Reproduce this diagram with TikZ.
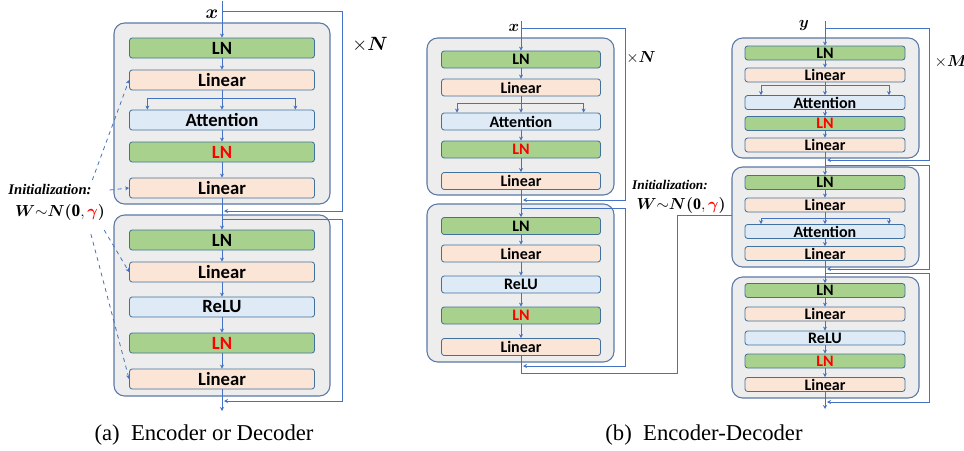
\documentclass[tikz,border=0pt]{standalone}
\usepackage{amssymb,amsmath}
\usepackage{bm}
\usepackage{fontspec}
\setmainfont{Liberation Serif}
\newfontfamily\blkfont{Carlito}
\usetikzlibrary{arrows.meta}

\definecolor{lngreen}{HTML}{A9D18E}
\definecolor{linpeach}{HTML}{FBE5D6}
\definecolor{attblue}{HTML}{DEEBF7}
\definecolor{edgeblue}{HTML}{41719C}
\definecolor{flowblue}{HTML}{4472C4}
\definecolor{layergray}{HTML}{EDEDED}
\definecolor{layeredge}{HTML}{5A78A6}

\newcommand{\winit}{$\bm{W}{\sim}\bm{N}\bm{(}\mathbf{0},{\color{red}\bm{\gamma}}\bm{)}$}

\begin{document}
\begin{tikzpicture}[x=0.75pt,y=-0.75pt,
  blk/.style={draw=edgeblue, line width=0.6pt, rounded corners=2pt, inner sep=0pt},
  wideA/.style={minimum width=138.75pt, minimum height=15pt, font=\blkfont\bfseries\fontsize{14}{14}\selectfont},
  wideB/.style={minimum width=119.25pt, minimum height=12.75pt, font=\blkfont\bfseries\fontsize{12}{12}\selectfont},
  wideC/.style={minimum width=120pt, minimum height=10.5pt, font=\blkfont\bfseries\fontsize{12}{12}\selectfont},
  ln/.style={blk, fill=lngreen},
  lin/.style={blk, fill=linpeach},
  att/.style={blk, fill=attblue},
  layer/.style={draw=layeredge, fill=layergray, line width=0.8pt, rounded corners=8pt},
  wire/.style={draw=flowblue, line width=0.6pt},
  flow/.style={wire, -{Stealth[length=3pt,width=3pt]}},
  init/.style={flow, dashed},
  lbl/.style={font=\fontsize{14}{14}\selectfont},
  lblsm/.style={font=\fontsize{12}{12}\selectfont}]

\useasboundingbox (0,0) rectangle (964,450);

% (a) one layer stack
\draw[layer] (114,23) rectangle (330,204);
\draw[layer] (114,215) rectangle (330,396);

\node(aLN1)[ln,wideA] at (222,48) {LN};
\node(aLin1)[lin,wideA] at (222,80) {Linear};
\node(aAtt)[att,wideA] at (222,120) {Attention};
\node(aLN2)[ln,wideA] at (222,152) {\color{red}LN};
\node(aLin2)[lin,wideA] at (222,188) {Linear};
\node(aLN3)[ln,wideA] at (222,240) {LN};
\node(aLin3)[lin,wideA] at (222,272) {Linear};
\node(aReLU)[att,wideA] at (222,307) {ReLU};
\node(aLN4)[ln,wideA] at (222,343) {\color{red}LN};
\node(aLin4)[lin,wideA] at (222,379) {Linear};

\node(ax)[lbl] at (212,14) {$\bm{x}$};
\node(aN)[lbl] at (370,45) {$\times\bm{N}$};

\coordinate(ain) at (222,1);
\coordinate(ares1) at (222,11);
\coordinate(aadd1) at (222,211);
\coordinate(ares2) at (222,219);
\coordinate(aadd2) at (222,401);
\coordinate(aout) at (222,411);
\coordinate(aright) at (342,0);
\coordinate(abr) at (222,98);

\draw[flow] (ain) -- (aLN1);
\draw[flow] (aLN1) -- (aLin1);
\draw[flow] (aLin1) -- (aAtt);
\draw[flow] (abr) -| ([xshift=-56pt]aAtt.north);
\draw[flow] (abr) -| ([xshift=55pt]aAtt.north);
\draw[flow] (aAtt) -- (aLN2);
\draw[flow] (aLN2) -- (aLin2);
\draw[flow] (aLin2) -- (aLN3);
\draw[flow] (aLN3) -- (aLin3);
\draw[flow] (aLin3) -- (aReLU);
\draw[flow] (aReLU) -- (aLN4);
\draw[flow] (aLN4) -- (aLin4);
\draw[flow] (aLin4) -- (aout);
\draw[flow,shorten >=1.5pt] (ares1) -- (ares1 -| aright) -- (aadd1 -| aright) -- (aadd1);
\draw[flow,shorten >=1.5pt] (ares2) -- (ares2 -| aright) -- (aadd2 -| aright) -- (aadd2);

\node(ainit)[font=\bfseries\itshape\fontsize{11}{11}\selectfont] at (50,190) {Initialization:};
\node(aW)[font=\fontsize{13}{13}\selectfont] at (60,212) {\winit};

\draw[init] ([xshift=-3pt]ainit.north east) -- (aLin1.west);
\draw[init] ([xshift=10pt]ainit.east) -- (aLin2.west);
\draw[init] ([shift={(-4pt,-4pt)}]aW.south east) -- (aLin3.west);
\draw[init] ([shift={(-14pt,-7pt)}]aW.south east) -- (aLin4.west);

\node(acap)[font=\fontsize{17}{17}\selectfont] at (204,435) {(a)\ \ Encoder or Decoder};

% (b) encoder side
\draw[layer] (427,38) rectangle (614,195);
\draw[layer] (427,204) rectangle (614,362);

\node(bLN1)[ln,wideB] at (521,59.5) {LN};
\node(bLin1)[lin,wideB] at (521,87.5) {Linear};
\node(bAtt)[att,wideB] at (521,121.5) {Attention};
\node(bLN2)[ln,wideB] at (521,149.5) {\color{red}LN};
\node(bLin2)[lin,wideB] at (521,181) {Linear};
\node(bLN3)[ln,wideB] at (521,226) {LN};
\node(bLin3)[lin,wideB] at (521,253.5) {Linear};
\node(bReLU)[att,wideB] at (521,284.5) {ReLU};
\node(bLN4)[ln,wideB] at (521,315.5) {\color{red}LN};
\node(bLin4)[lin,wideB] at (521,347) {Linear};

\node(bx)[lblsm] at (514,28) {$\bm{x}$};
\node(bN)[lblsm] at (641,58) {$\times\bm{N}$};

\coordinate(bin) at (521,21);
\coordinate(bres1) at (521,28);
\coordinate(badd1) at (521,200);
\coordinate(bres2) at (521,208);
\coordinate(badd2) at (521,366);
\coordinate(bmem) at (521,373);
\coordinate(bright) at (625,0);
\coordinate(bbr) at (521,103);
\coordinate(bup) at (677,215);
\coordinate(dmem) at (788,215);

\draw[flow] (bin) -- (bLN1);
\draw[flow] (bLN1) -- (bLin1);
\draw[flow] (bLin1) -- (bAtt);
\draw[flow] (bbr) -| ([xshift=-48pt]bAtt.north);
\draw[flow] (bbr) -| ([xshift=47pt]bAtt.north);
\draw[flow] (bAtt) -- (bLN2);
\draw[flow] (bLN2) -- (bLin2);
\draw[flow] (bLin2) -- (bLN3);
\draw[flow] (bLN3) -- (bLin3);
\draw[flow] (bLin3) -- (bReLU);
\draw[flow] (bReLU) -- (bLN4);
\draw[flow] (bLN4) -- (bLin4);
\draw[flow,shorten >=1.5pt] (bres1) -- (bres1 -| bright) -- (badd1 -| bright) -- (badd1);
\draw[flow,shorten >=1.5pt] (bres2) -- (bres2 -| bright) -- (badd2 -| bright) -- (badd2);
\draw[wire] (bLin4) -- (bmem) -| (bup) -- (dmem);

\node(binit)[font=\bfseries\itshape\fontsize{10}{10}\selectfont] at (670,185) {Initialization:};
\node(bW)[font=\fontsize{12}{12}\selectfont] at (681,205) {\winit};

% (b) decoder side
\draw[layer] (732,38) rectangle (919,158);
\draw[layer] (732,167) rectangle (919,267);
\draw[layer] (732,277) rectangle (919,398);

\node(dLN1)[ln,wideC] at (825,53) {LN};
\node(dLin1)[lin,wideC] at (825,75) {Linear};
\node(dAtt1)[att,wideC] at (825,102.5) {Attention};
\node(dLN2)[ln,wideC] at (825,123.5) {\color{red}LN};
\node(dLin2)[lin,wideC] at (825,145) {Linear};
\node(dLN3)[ln,wideC] at (825,182.5) {LN};
\node(dLin3)[lin,wideC] at (825,205) {Linear};
\node(dAtt2)[att,wideC] at (825,231.5) {Attention};
\node(dLin4)[lin,wideC] at (825,253.5) {Linear};
\node(dLN4)[ln,wideC] at (825,290.5) {LN};
\node(dLin5)[lin,wideC] at (825,314) {Linear};
\node(dReLU)[att,wideC] at (825,338) {ReLU};
\node(dLN5)[ln,wideC] at (825,361) {\color{red}LN};
\node(dLin6)[lin,wideC] at (825,384.5) {Linear};

\node(dy)[lblsm] at (804,25) {$\bm{y}$};
\node(dM)[lblsm] at (951,62) {$\times\bm{M}$};

\coordinate(din) at (825,21);
\coordinate(dres1) at (825,28);
\coordinate(dadd1) at (825,160);
\coordinate(dres2) at (825,165);
\coordinate(dadd2) at (825,269);
\coordinate(dres3) at (825,273);
\coordinate(dadd3) at (825,402);
\coordinate(dout) at (825,409);
\coordinate(dright) at (929,0);
\coordinate(dbr1) at (825,85);
\coordinate(dbr2) at (825,218);

\draw[flow] (din) -- (dLN1);
\draw[flow] (dLN1) -- (dLin1);
\draw[flow] (dLin1) -- (dAtt1);
\draw[flow] (dbr1) -| ([xshift=-48pt]dAtt1.north);
\draw[flow] (dbr1) -| ([xshift=48pt]dAtt1.north);
\draw[flow] (dAtt1) -- (dLN2);
\draw[flow] (dLN2) -- (dLin2);
\draw[flow] (dLin2) -- (dLN3);
\draw[flow] (dLN3) -- (dLin3);
\draw[flow] (dLin3) -- (dAtt2);
\draw[flow] (dbr2) -| ([xshift=-48pt]dAtt2.north);
\draw[flow] (dbr2) -| ([xshift=48pt]dAtt2.north);
\draw[flow] (dAtt2) -- (dLin4);
\draw[flow] (dLin4) -- (dLN4);
\draw[flow] (dLN4) -- (dLin5);
\draw[flow] (dLin5) -- (dReLU);
\draw[flow] (dReLU) -- (dLN5);
\draw[flow] (dLN5) -- (dLin6);
\draw[flow] (dLin6) -- (dout);
\draw[flow,shorten >=1.5pt] (dres1) -- (dres1 -| dright) -- (dadd1 -| dright) -- (dadd1);
\draw[flow,shorten >=1.5pt] (dres2) -- (dres2 -| dright) -- (dadd2 -| dright) -- (dadd2);
\draw[flow,shorten >=1.5pt] (dres3) -- (dres3 -| dright) -- (dadd3 -| dright) -- (dadd3);

\node(bcap)[font=\fontsize{17}{17}\selectfont] at (704,435) {(b)\ \ Encoder-Decoder};

\end{tikzpicture}
\end{document}
